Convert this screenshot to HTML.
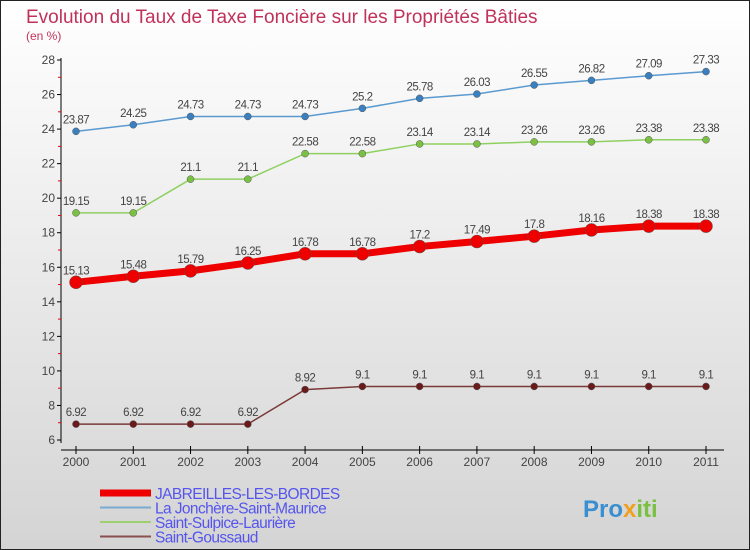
<!DOCTYPE html>
<html><head><meta charset="utf-8"><style>
body{margin:0;width:750px;height:550px;overflow:hidden;font-family:"Liberation Sans",sans-serif}
svg{display:block}
</style></head><body>
<svg id="c" width="750" height="550">
<defs><linearGradient id="bg" x1="0" y1="0" x2="0" y2="1"><stop offset="0" stop-color="#ffffff"/><stop offset="1" stop-color="#d4d4d4"/></linearGradient></defs>
<rect x="0.5" y="0.5" width="749" height="549" fill="url(#bg)" stroke="#222"/>
<text x="26" y="23" font-size="19" fill="#c0325a">Evolution du Taux de Taxe Foncière sur les Propriétés Bâties</text>
<text x="26" y="40" font-size="12" fill="#c0325a">(en %)</text>
<g id="axes"></g><g id="series"></g><g id="legend"></g>
<text x="583" y="517" font-size="24" font-weight="bold" fill="#3a8fd0">Pro<tspan fill="#f0a020">x</tspan><tspan fill="#7ac143">iti</tspan></text>
</svg>
<script>
const years=[2000,2001,2002,2003,2004,2005,2006,2007,2008,2009,2010,2011];
const yTicks=[6,8,10,12,14,16,18,20,22,24,26,28];
const jab=[15.13,15.48,15.79,16.25,16.78,16.78,17.2,17.49,17.8,18.16,18.38,18.38];
const jon=[23.87,24.25,24.73,24.73,24.73,25.2,25.78,26.03,26.55,26.82,27.09,27.33];
const sul=[19.15,19.15,21.1,21.1,22.58,22.58,23.14,23.14,23.26,23.26,23.38,23.38];
const gou=[6.92,6.92,6.92,6.92,8.92,9.1,9.1,9.1,9.1,9.1,9.1,9.1];
const names=["JABREILLES-LES-BORDES","La Jonchère-Saint-Maurice","Saint-Sulpice-Laurière","Saint-Goussaud"];
const NS="http://www.w3.org/2000/svg";
const X=i=>76+i*(630/(years.length-1));
const Y=v=>440-(v-6)*(380/22);
function mk(t,a,p){const e=document.createElementNS(NS,t);for(const k in a)e.setAttribute(k,a[k]);p.appendChild(e);return e;}
const ax=document.getElementById('axes');
let l=mk('line',{x1:61,y1:58,x2:61,y2:443,stroke:'#000'},ax);

l=mk('line',{x1:61,y1:450,x2:724,y2:450,stroke:'#000'},ax);

yTicks.forEach((v,i)=>{
 mk('line',{x1:57,x2:61,y1:Y(v),y2:Y(v),stroke:'#000'},ax);
 if(i<yTicks.length-1)mk('line',{x1:58,x2:61,y1:Y(v+1),y2:Y(v+1),stroke:'#e00'},ax);
 const t=mk('text',{x:55,y:Y(v)+4,'font-size':12,fill:'#444','text-anchor':'end'},ax);t.textContent=v;
 
});
years.forEach((y,i)=>{
 mk('line',{x1:X(i),x2:X(i),y1:446,y2:454,stroke:'#000'},ax);
 const t=mk('text',{x:X(i),y:466,'font-size':12,fill:'#444','text-anchor':'middle'},ax);t.textContent=y;
 
});
const se=document.getElementById('series');
const defs=[[gou,'#7a3a3a','#6a1a1a',1.5,3.5,'saint-goussaud'],[sul,'#8fd060','#7ac143',1.5,3.5,'saint-sulpice-lauriere'],[jon,'#5a9ad0','#3a80c0',1.5,3.5,'la-jonchere-saint-maurice'],[jab,'#ee0000','#ee0000',7,6.5,'jabreilles-les-bordes']];
defs.forEach(([d,lc,pc,w,r,n])=>{
 const g=mk('g',{},se);
 const p=mk('polyline',{points:d.map((v,i)=>X(i)+','+Y(v)).join(' '),fill:'none',stroke:lc,'stroke-width':w},g);
 
 d.forEach((v,i)=>{
  const c=mk('circle',{cx:X(i),cy:Y(v),r:r,fill:pc,stroke:'#555','stroke-width':0.5},g);
  
  const t=mk('text',{x:X(i),y:Y(v)-8,'font-size':11.5,fill:'#444','text-anchor':'middle','letter-spacing':'-0.5'},g);t.textContent=v;
  
 });
});
const lg=document.getElementById('legend');
const lcs=[['#ee0000',7],['#7aaad0',2],['#9ed070',2],['#8a5050',2]];
names.forEach((n,i)=>{
 const y=493+i*14.5;
 const g=mk('g',{},lg);
 mk('line',{x1:100,x2:151,y1:y,y2:y,stroke:lcs[i][0],'stroke-width':lcs[i][1]},g);
 const t=mk('text',{x:155,y:y+6,'font-size':15.5,fill:'#5555ee','letter-spacing':'-0.6'},g);t.textContent=n;
 
});
</script>
</body></html>
